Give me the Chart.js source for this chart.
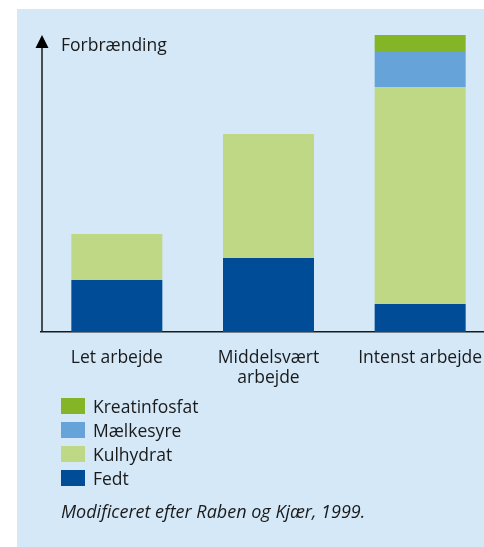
<!DOCTYPE html>
<html>
<head>
<meta charset="utf-8">
<script src="https://cdn.jsdelivr.net/npm/chart.js@4.4.1/dist/chart.umd.min.js"></script>
<style>
  body { margin: 0; background: #fff; font-family: "Open Sans", sans-serif; color: #1a1a1a; }
  #wrap { position: relative; width: 484px; height: 547px; overflow: hidden; }
  #panel { position: absolute; left: 17px; top: 9px; width: 467px; height: 538px; background: #D4E8F8; }
  #chart { position: absolute; left: 0; top: 0; }
  #legend { position: absolute; left: 61px; top: 398px; }
  .item { position: relative; height: 24px; width: 200px; }
  .box { position: absolute; left: 0; top: 0; width: 24px; height: 16px; }
  .lbl { position: absolute; left: 32px; top: -1px; font-size: 17.5px; line-height: 18px; white-space: nowrap; }
  #source { position: absolute; left: 61px; top: 500px; font-size: 18px; line-height: 22px; font-style: italic; white-space: nowrap; }
</style>
</head>
<body>
<div id="wrap">
  <div id="panel"></div>
  <canvas id="chart" width="496" height="400"></canvas>
  <div id="legend"></div>
  <div id="source">Modificeret efter Raben og Kjær, 1999.</div>
</div>
<script>
// Forbrænding ved forskellige arbejdsintensiteter (vilkårlige enheder)
const categories = [["Let arbejde"], ["Middelsvært", "arbejde"], ["Intenst arbejde"]];
const fedt = [52, 74, 28];
const kulhydrat = [46, 124, 217];
const maelkesyre = [0, 0, 36];
const kreatinfosfat = [0, 0, 16];
const yMax = 300;

// y-akse med pil og titel
const axisArrow = {
    id: "axisArrow",
    afterDraw(chart) {
        const ctx = chart.ctx;
        const area = chart.chartArea;
        const x = area.left + 1;
        ctx.save();
        ctx.strokeStyle = "#1a1a1a";
        ctx.lineWidth = 1.5;
        ctx.beginPath();
        ctx.moveTo(x, area.bottom);
        ctx.lineTo(x, 46);
        ctx.stroke();
        ctx.fillStyle = "#000";
        ctx.beginPath();
        ctx.moveTo(x, 35);
        ctx.lineTo(x - 6.5, 48);
        ctx.lineTo(x + 6.5, 48);
        ctx.closePath();
        ctx.fill();
        ctx.font = "17.5px 'Open Sans'";
        ctx.fillStyle = "#1a1a1a";
        ctx.textBaseline = "alphabetic";
        ctx.fillText("Forbrænding", 61, 51);
        ctx.restore();
    }
};

const chart = new Chart(document.getElementById("chart"), {
    type: "bar",
    data: {
        labels: categories,
        datasets: [
            { label: "Fedt", data: fedt, backgroundColor: "#004C97" },
            { label: "Kulhydrat", data: kulhydrat, backgroundColor: "#BFD886" },
            { label: "Mælkesyre", data: maelkesyre, backgroundColor: "#66A3D8" },
            { label: "Kreatinfosfat", data: kreatinfosfat, backgroundColor: "#84B527" }
        ]
    },
    options: {
        responsive: false,
        animation: false,
        layout: { padding: { left: 41, top: 32, right: 0, bottom: 0 } },
        datasets: { bar: { categoryPercentage: 1, barPercentage: 0.6, borderWidth: 0 } },
        plugins: { legend: { display: false }, tooltip: { enabled: false } },
        scales: {
            x: {
                stacked: true,
                grid: { display: false },
                border: { display: true, color: "#1a1a1a", width: 1.5 },
                ticks: { color: "#1a1a1a", padding: 8, font: { family: "Open Sans", size: 17.5, lineHeight: 1.15 }, maxRotation: 0, autoSkip: false },
                afterFit: s => { s.height = 68; }
            },
            y: {
                stacked: true,
                display: false,
                min: 0,
                max: yMax
            }
        }
    },
    plugins: [axisArrow]
});

// legende, øverst det øverste lag
const legend = document.getElementById("legend");
chart.data.datasets.slice().reverse().forEach(ds => {
    const row = document.createElement("div");
    row.className = "item";
    row.innerHTML = `<span class="box" style="background:${ds.backgroundColor}"></span><span class="lbl">${ds.label}</span>`;
    legend.appendChild(row);
});
</script>
</body>
</html>
